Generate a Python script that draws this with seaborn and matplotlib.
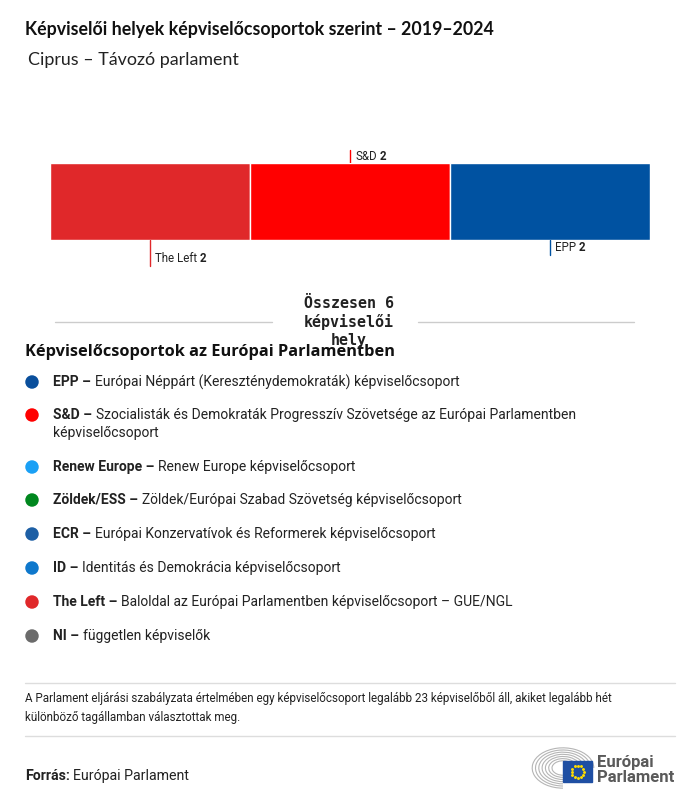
import numpy as np
import matplotlib
matplotlib.use("Agg")
import matplotlib.pyplot as plt
import seaborn as sns
import pandas as pd
from matplotlib.patches import Arc, Rectangle

# data
groups = ["The Left", "S&D", "EPP"]
seats = [2, 2, 2]
bar_colors = ["#E0282A", "#FF0000", "#0052A1"]

legend_abbr = ["EPP", "S&D", "Renew Europe", "Zöldek/ESS", "ECR", "ID", "The Left", "NI"]
legend_desc = [
    "Európai Néppárt (Kereszténydemokraták) képviselőcsoport",
    "Szocialisták és Demokraták Progresszív Szövetsége az Európai Parlamentben\nképviselőcsoport",
    "Renew Europe képviselőcsoport",
    "Zöldek/Európai Szabad Szövetség képviselőcsoport",
    "Európai Konzervatívok és Reformerek képviselőcsoport",
    "Identitás és Demokrácia képviselőcsoport",
    "Baloldal az Európai Parlamentben képviselőcsoport – GUE/NGL",
    "független képviselők",
]
legend_colors = ["#0A4F9C", "#FF0000", "#1AA0F5", "#00871E", "#1D5FA5", "#0E78CC", "#E0282A", "#6B6B6B"]

title = "Képviselői helyek képviselőcsoportok szerint – 2019–2024"
subtitle = "Ciprus – Távozó parlament"
total_text = "Összesen 6\nképviselői\nhely"
legend_title = "Képviselőcsoportok az Európai Parlamentben"
note = ("A Parlament eljárási szabályzata értelmében egy képviselőcsoport legalább 23 képviselőből áll, akiket legalább hét\n"
        "különböző tagállamban választottak meg.")

sns.set_theme(style="white")
plt.rcParams["font.family"] = ["Roboto", "DejaVu Sans"]

W, H = 700, 802
fig = plt.figure(figsize=(W / 100, H / 100), dpi=100)
fig.patch.set_facecolor("white")
renderer = fig.canvas.get_renderer()


def px(x, y):
    return x / W, 1 - y / H


def runs(x, y, parts, size, color="#222222", family="Roboto", gap=3):
    # draw pieces of text one after another (bold + regular)
    for s, weight in parts:
        t = fig.text(*px(x, y), s, fontsize=size, fontweight=weight, family=family,
                     color=color, va="center", ha="left")
        x += t.get_window_extent(renderer=renderer).width + gap


# overlay for rules and logo, in pixel coords
deco = fig.add_axes([0, 0, 1, 1], zorder=-1)
deco.set_xlim(0, W)
deco.set_ylim(H, 0)
deco.axis("off")

# titles
fig.text(*px(25, 30), title, fontsize=12.8, fontweight="bold", family="Lato", color="#111111", va="center")
fig.text(*px(28, 60), subtitle, fontsize=12.9, family="Lato", color="#222222", va="center")

# stacked bar
ax = fig.add_axes([50 / W, 1 - 240 / H, 600 / W, 77 / H])
df = pd.DataFrame({"group": groups, "seats": seats, "color": bar_colors})
df["left"] = df["seats"].cumsum() - df["seats"]
ax.barh(0, df["seats"], left=df["left"], color=df["color"], height=1, edgecolor="white", linewidth=1)
ax.set_xlim(0, df["seats"].sum())
ax.set_ylim(-0.5, 0.5)
ax.axis("off")

# labels for segments
offsets = {"The Left": ("below", 26), "S&D": ("above", 13), "EPP": ("below", 15)}
for _, r in df.iterrows():
    mid = r["left"] + r["seats"] / 2
    xp = 50 + mid / df["seats"].sum() * 600
    side, length = offsets[r["group"]]
    if side == "above":
        y0, y1 = 163, 163 - length
        ty = 157
    else:
        y0, y1 = 240, 240 + length
        ty = y1 - 8
    deco.plot([xp, xp], [y0, y1], color=r["color"], lw=1)
    runs(xp + 5, ty, [(r["group"], "normal"), (str(r["seats"]), "bold")], 8.3, gap=3)

# total
deco.plot([55, 272], [322, 322], color="#cccccc", lw=1)
deco.plot([418, 634], [322, 322], color="#cccccc", lw=1)
fig.text(*px(349, 322), total_text, fontsize=10.8, fontweight="bold", family="DejaVu Sans Mono",
         color="#222222", ha="center", va="center", linespacing=1.27, zorder=6)

# legend
fig.text(*px(25, 352), legend_title, fontsize=11.8, fontweight="bold", family="Open Sans",
         color="#111111", va="center", zorder=5)
ys = [382, 415, 467, 500, 534, 568, 602, 636]
leg = pd.DataFrame({"x": [32] * len(ys), "y": ys, "abbr": legend_abbr})
sns.scatterplot(data=leg, x="x", y="y", hue="abbr", palette=dict(zip(legend_abbr, legend_colors)),
                s=94, edgecolor="none", legend=False, ax=deco)
deco.set_xlim(0, W)
deco.set_ylim(H, 0)
for yy, a, d in zip(ys, legend_abbr, legend_desc):
    first, *rest = d.split("\n")
    runs(53, yy, [(a + " –", "bold"), (first, "normal")], 10, gap=4)
    for k, line in enumerate(rest):
        fig.text(*px(53, yy + 18 * (k + 1)), line, fontsize=10, family="Roboto", color="#222222", va="center")

# note
deco.plot([25, 675], [683, 683], color="#dddddd", lw=1)
fig.text(*px(25, 708), note, fontsize=8.4, family="Roboto", color="#222222", va="center", linespacing=1.6)
deco.plot([25, 675], [736, 736], color="#dddddd", lw=1)
runs(25, 776, [("Forrás:", "bold"), ("Európai Parlament", "normal")], 10.2, gap=3)

# logo
for r in range(10, 30, 3):
    deco.add_patch(Arc((563, 768), 2 * r * 1.1, 2 * r * 0.72, theta1=90, theta2=360,
                       color="#b5b5b5", lw=0.8))
deco.add_patch(Rectangle((563, 761), 29, 21, color="#1f4fa3", zorder=3))
ang = np.linspace(0, 2 * np.pi, 13)[:-1]
deco.scatter(577.5 + 6 * np.cos(ang), 771.5 + 6 * np.sin(ang), s=1.2, color="#ffdd00", zorder=4)
fig.text(*px(597, 762), "Európai", fontsize=12, fontweight="bold", family="Roboto", color="#5a5a5a", va="center")
fig.text(*px(597, 777), "Parlament", fontsize=12, fontweight="bold", family="Roboto", color="#5a5a5a", va="center")

fig.savefig("out.png", dpi=100)
